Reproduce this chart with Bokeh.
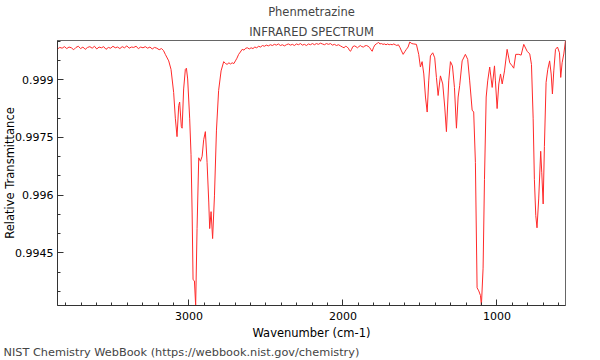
from bokeh.plotting import figure
from bokeh.models import Range1d, FixedTicker, Title
from bokeh.embed import file_html
from bokeh.resources import INLINE

# ---- data (wavenumber in cm-1, relative transmittance) ----
wavenumber = [
    3853, 3838, 3823, 3808, 3793, 3778, 3763, 3748, 3733, 3718, 3703, 3688, 3673, 3658,
    3643, 3628, 3613, 3598, 3583, 3568, 3553, 3538, 3523, 3508, 3493, 3478, 3463, 3448,
    3433, 3418, 3403, 3388, 3373, 3358, 3343, 3328, 3313, 3298, 3283, 3268, 3253, 3238,
    3223, 3208, 3193, 3178, 3165,
    3153, 3131, 3116, 3099, 3088, 3077, 3066, 3060, 3049, 3044, 3034, 3023, 3016, 3008,
    2995, 2986, 2979, 2973, 2964, 2956, 2947, 2936, 2925, 2914, 2904, 2893, 2882, 2871,
    2865, 2856, 2846, 2834, 2821, 2807, 2791,
    2774, 2762, 2752, 2740, 2730, 2719, 2708, 2698, 2688, 2677, 2666, 2654, 2642, 2631,
    2620, 2608, 2596, 2584, 2572, 2560, 2547, 2535, 2522, 2510,
    2497, 2484, 2471, 2458, 2445, 2432, 2419, 2406, 2393, 2380, 2367, 2354, 2341, 2328,
    2315, 2302, 2289, 2276, 2263, 2250, 2237, 2224, 2211, 2198, 2185, 2172, 2159, 2146,
    2133, 2120, 2107, 2094, 2081, 2068, 2055, 2042, 2029, 2016, 2003, 1992, 1984, 1975,
    1965, 1957, 1951, 1944, 1936, 1925, 1915, 1906, 1897, 1887, 1877, 1867, 1857, 1847,
    1837, 1827, 1818, 1810, 1802, 1793, 1784, 1776, 1768, 1760, 1750, 1740, 1730, 1720,
    1710, 1700, 1690, 1680, 1670, 1660, 1650, 1640, 1630, 1620, 1609, 1598, 1588, 1577,
    1566, 1553, 1540, 1523, 1508, 1497, 1486, 1475, 1464, 1453, 1443, 1432, 1417, 1404,
    1393, 1382, 1367, 1352, 1339, 1328, 1313, 1302, 1289, 1276, 1263, 1252, 1242, 1226,
    1205, 1190, 1177, 1161, 1151, 1140, 1129, 1118, 1107, 1101, 1090, 1081, 1070, 1060,
    1047, 1031, 1016, 1010, 999, 988, 977, 966, 951, 934, 917, 901, 891, 878,
    858, 843, 826, 804, 787, 776, 765, 757, 748, 740, 729, 716, 709, 700,
    692, 681, 670, 658, 648, 640, 631, 620, 607, 594, 586, 577, 566, 555,
]
transmittance = [
    0.99980, 0.99984, 0.99982, 0.99986, 0.99981, 0.99985, 0.99983, 0.99978, 0.99984, 0.99987,
    0.99981, 0.99985, 0.99979, 0.99984, 0.99986, 0.99982, 0.99987, 0.99980, 0.99985, 0.99983,
    0.99986, 0.99979, 0.99984, 0.99982, 0.99987, 0.99983, 0.99985, 0.99981, 0.99986, 0.99983,
    0.99988, 0.99982, 0.99985, 0.99984, 0.99987, 0.99981, 0.99985, 0.99983, 0.99986, 0.99982,
    0.99985, 0.99980, 0.99984, 0.99982, 0.99978, 0.99981, 0.99976,
    0.99966, 0.99949, 0.99927, 0.99867, 0.99800, 0.99752, 0.99833, 0.99842, 0.99778, 0.99774,
    0.99876, 0.99927, 0.99930, 0.99902, 0.99800, 0.99705, 0.99556, 0.99380, 0.99377, 0.99313,
    0.99513, 0.99697, 0.99688, 0.99701, 0.99744, 0.99765, 0.99685, 0.99582, 0.99513, 0.99557,
    0.99487, 0.99598, 0.99769, 0.99872, 0.99923,
    0.99947, 0.99942, 0.99940, 0.99944, 0.99941, 0.99944, 0.99942, 0.99949, 0.99956, 0.99966,
    0.99972, 0.99979, 0.99977, 0.99982, 0.99983, 0.99980, 0.99983, 0.99981, 0.99985, 0.99983,
    0.99987, 0.99985, 0.99989, 0.99987,
    0.99990, 0.99988, 0.99991, 0.99989, 0.99992, 0.99990, 0.99993, 0.99989, 0.99991, 0.99988,
    0.99991, 0.99993, 0.99990, 0.99992, 0.99989, 0.99993, 0.99991, 0.99994, 0.99990, 0.99992,
    0.99989, 0.99993, 0.99991, 0.99994, 0.99991, 0.99994, 0.99992, 0.99995, 0.99993, 0.99991,
    0.99994, 0.99992, 0.99994, 0.99990, 0.99992, 0.99989, 0.99991, 0.99988, 0.99985, 0.99983,
    0.99987, 0.99986, 0.99982, 0.99976, 0.99974, 0.99979, 0.99986, 0.99988, 0.99986, 0.99983,
    0.99986, 0.99989, 0.99986, 0.99985, 0.99988, 0.99989, 0.99987, 0.99984, 0.99978, 0.99974,
    0.99983, 0.99990, 0.99993, 0.99995, 0.99997, 0.99993, 0.99994, 0.99992, 0.99993, 0.99991,
    0.99993, 0.99991, 0.99992, 0.99991, 0.99993, 0.99991, 0.99989, 0.99991, 0.99984, 0.99975,
    0.99966, 0.99973, 0.99979, 0.99985, 0.99998, 0.99994, 0.99993, 0.99992, 0.99966, 0.99933,
    0.99947, 0.99915, 0.99855, 0.99816, 0.99897, 0.99962, 0.99970, 0.99957, 0.99906, 0.99859,
    0.99910, 0.99889, 0.99829, 0.99765, 0.99897, 0.99947, 0.99936, 0.99880, 0.99774, 0.99855,
    0.99885, 0.99949, 0.99966, 0.99953, 0.99897, 0.99821, 0.99816, 0.99685, 0.99359, 0.99351,
    0.99339, 0.99313, 0.99410, 0.99641, 0.99855, 0.99897, 0.99933, 0.99880, 0.99936, 0.99897,
    0.99825, 0.99889, 0.99915, 0.99889, 0.99923, 0.99979, 0.99944, 0.99936, 0.99930, 0.99966,
    0.99966, 0.99964, 0.99992, 0.99974, 0.99967, 0.99940, 0.99800, 0.99641, 0.99547, 0.99515,
    0.99590, 0.99714, 0.99658, 0.99577, 0.99726, 0.99893, 0.99927, 0.99949, 0.99915, 0.99863,
    0.99923, 0.99979, 0.99985, 0.99970, 0.99906, 0.99944, 0.99967, 1.00002,
]

x_ticks = [1000, 2000, 3000]
x_minor_ticks = [600, 700, 800, 900, 1100, 1200, 1300, 1400, 1500, 1600, 1700, 1800, 1900,
                 2100, 2200, 2300, 2400, 2500, 2600, 2700, 2800, 2900, 3100, 3200, 3300,
                 3400, 3500, 3600, 3700, 3800]
y_ticks = [0.9945, 0.996, 0.9975, 0.999]
y_tick_labels = ["0.9945", "0.996", "0.9975", "0.999"]
y_minor_ticks = [0.9935, 0.994, 0.995, 0.9955, 0.9965, 0.997, 0.998, 0.9985, 0.9995, 1.0]

compound = "Phenmetrazine"
subtitle = "INFRARED SPECTRUM"
x_label = "Wavenumber (cm-1)"
y_label = "Relative Transmittance"
footer = "NIST Chemistry WebBook (https://webbook.nist.gov/chemistry)"

FONT = "DejaVu Sans"
FS = "11.5px"
TICK_FS = "11px"
AX = "#333333"

p = figure(width=600, height=360, output_backend="svg", toolbar_location=None,
           x_range=Range1d(max(wavenumber), min(wavenumber)),
           y_range=Range1d(min(transmittance), max(transmittance)),
           min_border_left=57, min_border_right=35, min_border_top=40, min_border_bottom=52,
           background_fill_color="white", border_fill_color="white")

p.line(wavenumber, transmittance, line_color="#ff2a2a", line_width=1)

p.xgrid.visible = False
p.ygrid.visible = False
p.outline_line_color = "#666666"
p.outline_line_width = 1

for ax in (p.xaxis[0], p.yaxis[0]):
    ax.major_tick_in = 6
    ax.major_tick_out = 0
    ax.minor_tick_in = 3
    ax.minor_tick_out = 0
    ax.axis_line_color = AX
    ax.major_tick_line_color = AX
    ax.minor_tick_line_color = AX
    ax.major_label_text_font = FONT
    ax.major_label_text_font_size = TICK_FS
    ax.major_label_text_color = "black"
    ax.axis_label_text_font = FONT
    ax.axis_label_text_font_size = FS
    ax.axis_label_text_font_style = "normal"
    ax.axis_label_text_color = "black"

p.xaxis.ticker = FixedTicker(ticks=x_ticks, minor_ticks=x_minor_ticks)
p.yaxis.ticker = FixedTicker(ticks=y_ticks, minor_ticks=y_minor_ticks)
p.yaxis.major_label_overrides = dict(zip(y_ticks, y_tick_labels))
p.xaxis.axis_label = x_label
p.yaxis.axis_label = y_label
p.xaxis.major_label_standoff = 6
p.xaxis.axis_label_standoff = 3
p.yaxis.major_label_standoff = 4
p.yaxis.axis_label_standoff = -5

# titles: the later-added one sits closer to the plot frame
p.title.text = compound
p.title.align = "center"
p.title.text_font = FONT
p.title.text_font_size = FS
p.title.text_font_style = "normal"
p.title.standoff = 4
p.add_layout(Title(text=subtitle, align="center", text_font=FONT, text_font_size=FS,
                   text_font_style="normal", standoff=4), "above")
p.add_layout(Title(text=footer, align="left", offset=-54, text_font=FONT,
                   text_font_size="11.3px", text_font_style="normal", standoff=3), "below")

open("out.html", "w").write(file_html(p, INLINE))
